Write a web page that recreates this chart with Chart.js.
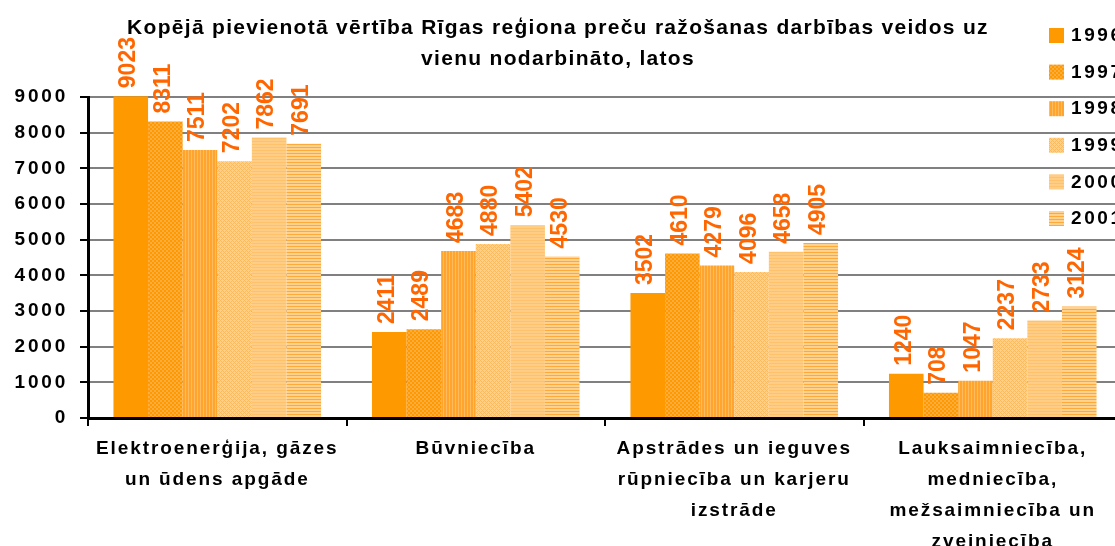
<!DOCTYPE html>
<html>
<head>
<meta charset="utf-8">
<script src="https://cdn.jsdelivr.net/npm/chart.js@4/dist/chart.umd.min.js"></script>
<style>
  html, body { margin: 0; padding: 0; background: #fff; overflow: hidden; width: 1115px; height: 546px; }
  #wrap { width: 1130px; height: 546px; }
</style>
</head>
<body>
<div id="wrap"><canvas id="c" width="1130" height="546"></canvas></div>
<script>
// ---- data ----
const categories = [
  ["Elektroenerģija, gāzes", "un ūdens apgāde"],
  ["Būvniecība"],
  ["Apstrādes un ieguves", "rūpniecība un karjeru", "izstrāde"],
  ["Lauksaimniecība,", "medniecība,", "mežsaimniecība un", "zvejniecība"]
];
const years = ["1996", "1997", "1998", "1999", "2000", "2001"];
const v1996 = [9023, 2411, 3502, 1240];
const v1997 = [8311, 2489, 4610, 708];
const v1998 = [7511, 4683, 4279, 1047];
const v1999 = [7202, 4880, 4096, 2237];
const v2000 = [7862, 5402, 4658, 2733];
const v2001 = [7691, 4530, 4905, 3124];
const yTicks = [0, 1000, 2000, 3000, 4000, 5000, 6000, 7000, 8000, 9000];
const titleLines = [
  "Kopējā pievienotā vērtība Rīgas reģiona preču ražošanas darbības veidos uz",
  "vienu nodarbināto, latos"
];

// ---- patterns ----
function makePattern(w, h, painter) {
  const c = document.createElement('canvas');
  c.width = w; c.height = h;
  const g = c.getContext('2d');
  painter(g);
  return document.getElementById('c').getContext('2d').createPattern(c, 'repeat');
}
const fills = [
  '#FF9900',
  makePattern(4, 4, g => { g.fillStyle = '#FF9900'; g.fillRect(0,0,4,4); g.fillStyle = '#FFAC3E'; g.fillRect(0,0,2,2); g.fillRect(2,2,2,2); }),
  makePattern(3, 1, g => { g.fillStyle = '#FFA42C'; g.fillRect(0,0,3,1); g.fillStyle = '#FFBC5E'; g.fillRect(2,0,1,1); }),
  makePattern(4, 4, g => { g.fillStyle = '#FFD08C'; g.fillRect(0,0,4,4); g.fillStyle = '#FFBA58'; g.fillRect(0,0,1,1); g.fillRect(1,1,1,1); g.fillRect(2,2,1,1); g.fillRect(3,3,1,1); g.fillRect(3,1,1,1); g.fillRect(1,3,1,1); }),
  makePattern(1, 3, g => { g.fillStyle = '#FFCD86'; g.fillRect(0,0,1,3); g.fillStyle = '#FFC26A'; g.fillRect(0,0,1,1); }),
  makePattern(1, 3, g => { g.fillStyle = '#FFD28F'; g.fillRect(0,0,1,3); g.fillStyle = '#FFA93A'; g.fillRect(0,0,1,1); })
];
const seriesValues = [v1996, v1997, v1998, v1999, v2000, v2001];

const FONT = "'Liberation Sans', Arial, sans-serif";

// y tick labels (z 0) are drawn before datasets, x labels (z 1) after them
const spacingPlugin = {
  id: 'spacing',
  beforeDraw(chart) { chart.ctx.letterSpacing = '2.8px'; },
  beforeDatasetsDraw(chart) { chart.ctx.letterSpacing = '1.9px'; }
};

const titlePlugin = {
  id: 'ttl',
  afterDraw(chart) {
    const ctx = chart.ctx;
    ctx.save();
    ctx.letterSpacing = '1.3px';
    ctx.font = `bold 21px ${FONT}`;
    ctx.fillStyle = '#000';
    ctx.textAlign = 'center';
    ctx.textBaseline = 'middle';
    ctx.fillText(titleLines[0], 558, 28);
    ctx.fillText(titleLines[1], 558, 59);
    ctx.restore();
  }
};

const labelPlugin = {
  id: 'vals',
  afterDatasetsDraw(chart) {
    const ctx = chart.ctx;
    ctx.save();
    ctx.letterSpacing = '0px';
    ctx.font = `bold 23px ${FONT}`;
    ctx.fillStyle = '#FF6600';
    ctx.textAlign = 'left';
    ctx.textBaseline = 'middle';
    chart.data.datasets.forEach((ds, di) => {
      const meta = chart.getDatasetMeta(di);
      meta.data.forEach((el, i) => {
        ctx.save();
        ctx.translate(el.x - 2, el.y - 8);
        ctx.rotate(-Math.PI / 2);
        ctx.fillText(String(ds.data[i]), 0, 0);
        ctx.restore();
      });
    });
    ctx.restore();
  }
};

const legendPlugin = {
  id: 'lgd',
  afterDraw(chart) {
    const ctx = chart.ctx;
    ctx.save();
    ctx.letterSpacing = '2.6px';
    ctx.font = `bold 19px ${FONT}`;
    ctx.textAlign = 'left';
    ctx.textBaseline = 'middle';
    years.forEach((y, i) => {
      const yc = 35 + i * 36.6;
      ctx.fillStyle = chart.data.datasets[i].backgroundColor;
      ctx.fillRect(1049, yc - 7, 15, 15);
      ctx.fillStyle = '#000';
      ctx.fillText(y, 1071, yc + 1);
    });
    ctx.restore();
  }
};

new Chart(document.getElementById('c'), {
  type: 'bar',
  data: {
    labels: categories,
    datasets: years.map((y, i) => ({
      label: y,
      data: seriesValues[i],
      backgroundColor: fills[i],
      borderWidth: 0,
      categoryPercentage: 0.803,
      barPercentage: 1.0,
      clip: false
    }))
  },
  options: {
    responsive: false,
    animation: false,
    layout: { padding: { top: 97, left: 0, right: 8, bottom: 0 } },
    plugins: { legend: { display: false }, title: { display: false }, tooltip: { enabled: false } },
    scales: {
      x: {
        grid: { offset: true, drawOnChartArea: false, drawTicks: true, tickLength: 8, color: '#000', lineWidth: 2, z: 1 },
        border: { color: '#000', width: 3, z: 1 },
        ticks: { color: '#000', padding: 7, maxRotation: 0, autoSkip: false, z: 1,
                 font: { family: FONT, size: 19, weight: 'bold', lineHeight: 31 / 19 } },
        afterFit(s) { s.height = 128; }
      },
      y: {
        min: yTicks[0], max: yTicks[yTicks.length - 1],
        afterBuildTicks(s) { s.ticks = yTicks.map(v => ({ value: v })); },
        ticks: { color: '#000', padding: 12, z: 0, font: { family: FONT, size: 19, weight: 'bold' },
                 callback: v => String(v) },
        grid: { color: c => (c.tick && c.tick.value === 0) ? 'rgba(0,0,0,0)' : '#808080',
                lineWidth: 2, tickColor: '#000', tickLength: 8, tickWidth: 2 },
        border: { color: '#000', width: 3 },
        afterFit(s) { s.width = 88; }
      }
    }
  },
  plugins: [spacingPlugin, titlePlugin, labelPlugin, legendPlugin]
});
</script>
</body>
</html>
